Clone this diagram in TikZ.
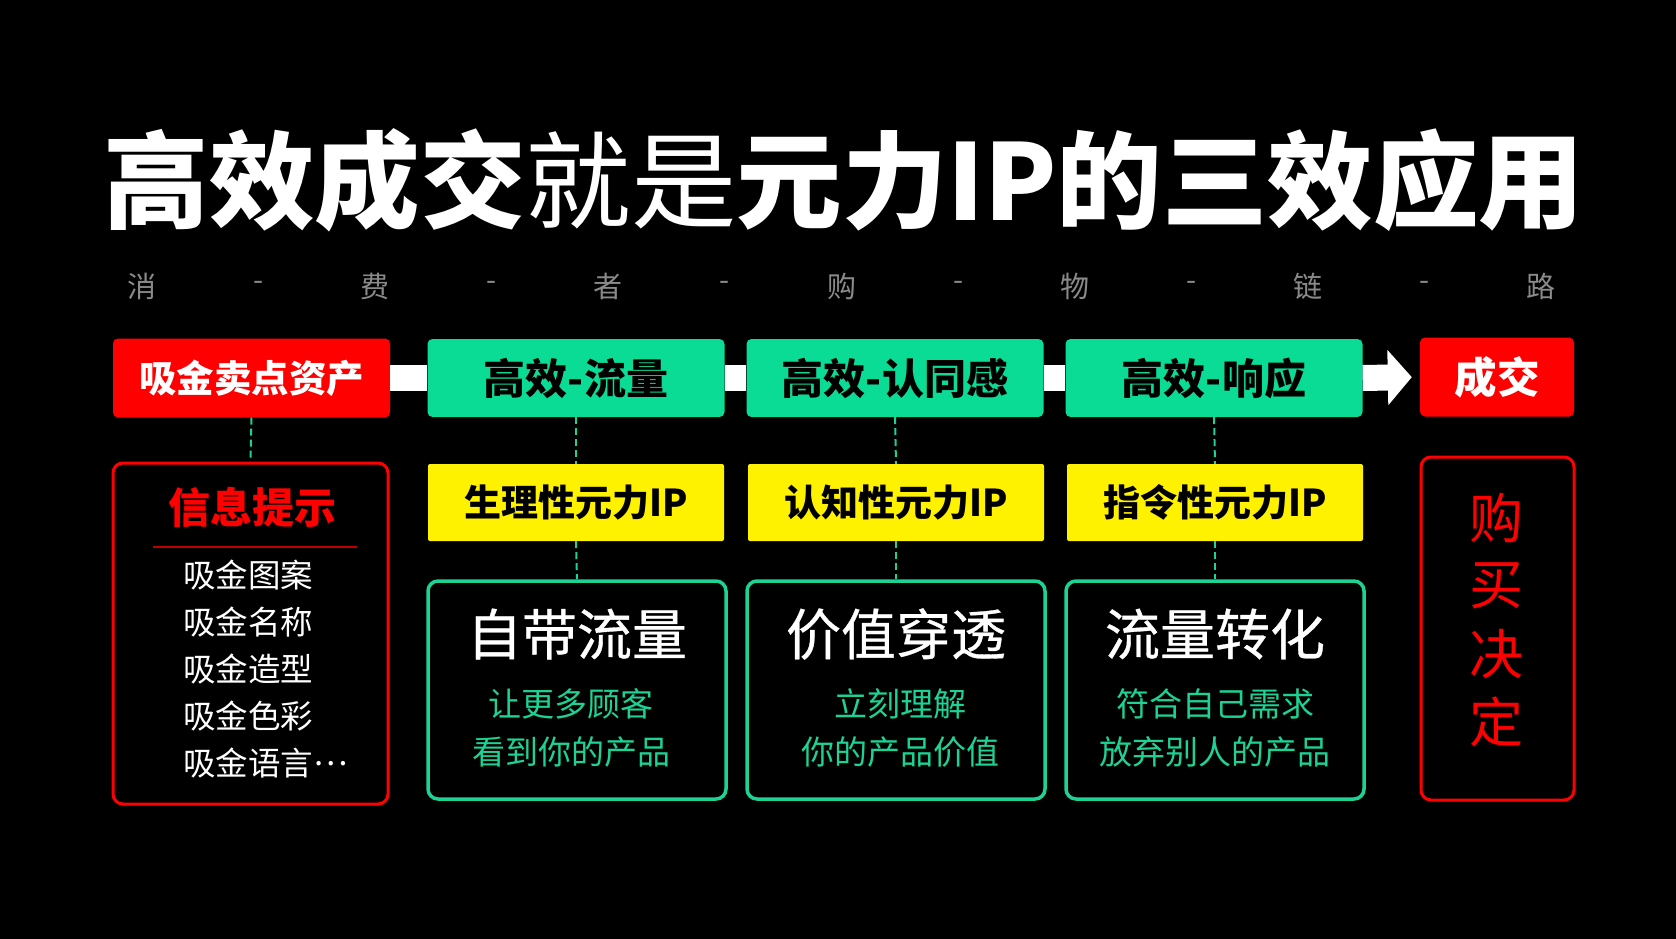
\documentclass[tikz,border=0pt]{standalone}
\usepackage{fontspec}
\setmainfont{Noto Sans CJK SC}
\newfontfamily\midweight[FakeBold=0.6]{Noto Sans CJK SC}
\usetikzlibrary{positioning, arrows.meta}

\definecolor{mintgreen}{HTML}{0BDC95}
\definecolor{linegreen}{HTML}{1CD295}
\definecolor{signred}{HTML}{FF0000}
\definecolor{darkred}{HTML}{C00000}
\definecolor{chaingray}{HTML}{8A8A8A}

\tikzset{
  redtag/.style={fill=signred, rounded corners=5pt, text=white, inner sep=0pt,
    minimum height=79pt, font=\fontsize{37.5}{40}\selectfont\bfseries},
  stagebox/.style={fill=mintgreen, rounded corners=5pt, text=black, inner sep=0pt,
    minimum width=297pt, minimum height=78pt, font=\fontsize{42}{46}\selectfont\bfseries},
  ipbox/.style={fill=yellow, rounded corners=2pt, text=black, inner sep=0pt,
    minimum width=296pt, minimum height=77pt, font=\fontsize{37}{40}\selectfont\bfseries},
  effectbox/.style={draw=linegreen, line width=3.5pt, rounded corners=10pt, inner sep=0pt,
    minimum width=298pt, minimum height=218pt},
  frame/.style={draw=signred, line width=3pt, rounded corners=10pt, inner sep=0pt},
  bigword/.style={text=white, font=\fontsize{55}{60}\midweight},
  smallword/.style={text=linegreen, font=\fontsize{33}{36}\selectfont},
  chain/.style={text=chaingray, font=\fontsize{29}{32}\selectfont},
  item/.style={text=white, anchor=west, inner sep=0pt, font=\fontsize{32.5}{36}\selectfont},
  link/.style={draw=linegreen, line width=2pt, dash pattern=on 7pt off 4pt},
  bar/.style={draw=white, line width=26pt}
}

\begin{document}
\begin{tikzpicture}[x=1pt, y=-1pt]
\fill[black] (0,0) rectangle (1676,939);
\useasboundingbox (0,0) rectangle (1676,939);

% title
\node[text=white, inner sep=0pt, font=\fontsize{105.5}{110}\selectfont] (title) at (844,180)
  {{\bfseries 高效成交}就是{\bfseries 元力IP的三效应用}};

% consumer chain
\foreach \ch [count=\i] in {消,费,者,购,物,链,路}
  \node[chain] (ch\i) at ({142+233.2*(\i-1)},286) {\ch};
\foreach \i in {1,...,6}
  \node[chain] (dash\i) at ({258.6+233.2*(\i-1)},286) {-};

% top row
\node[redtag, minimum width=277pt] (asset) at (251.5,378) {吸金卖点资产};
\node[stagebox] (flow) at (576,378) {高效-流量};
\node[stagebox] (trust) at (895,378) {高效-认同感};
\node[stagebox] (react) at (1214,378) {高效-响应};
\node[redtag, minimum width=154pt, font=\fontsize{42.5}{46}\selectfont\bfseries] (deal) at (1497,377) {成交};

\draw[bar] (asset.east) -- (flow.west);
\draw[bar] (flow.east) -- (trust.west);
\draw[bar] (trust.east) -- (react.west);
\draw[bar, -{Triangle[length=24pt, width=54pt]}, shorten >=8pt] (react.east) -- (deal.west);

% IP row
\node[ipbox] (body) at (576,502.5) {生理性元力IP};
\node[ipbox] (mind) at (896,502.5) {认知性元力IP};
\node[ipbox] (order) at (1215,502.5) {指令性元力IP};

% effect row
\node[effectbox] (self) at (577,690) {};
\node[effectbox] (value) at (896,690) {};
\node[effectbox] (convert) at (1215,690) {};

\node[bigword] (selft) at (577,634) {自带流量};
\node[smallword] (selfa) at (571,704) {让更多顾客};
\node[smallword] (selfb) at (571,752) {看到你的产品};

\node[bigword] (valuet) at (896,634) {价值穿透};
\node[smallword] (valuea) at (900,704) {立刻理解};
\node[smallword] (valueb) at (900,752) {你的产品价值};

\node[bigword] (convertt) at (1215,634) {流量转化};
\node[smallword] (converta) at (1215,704) {符合自己需求};
\node[smallword] (convertb) at (1215,752) {放弃别人的产品};

% info box
\node[frame, minimum width=275pt, minimum height=341pt] (info) at (250.5,633.5) {};
\node[text=signred, font=\fontsize{42}{44}\selectfont\bfseries] (infot) at (252,507) {信息提示};
\coordinate (rulel) at (153,547);
\coordinate (ruler) at (357,547);
\draw[darkred, line width=2pt] (rulel) -- (ruler);
\foreach \txt [count=\i] in {吸金图案,吸金名称,吸金造型,吸金色彩,吸金语言\raisebox{0.3em}{…}}
  \node[item] (item\i) at (183,{528+47*\i}) {\txt};

% decision box
\node[frame, minimum width=153pt, minimum height=343pt] (decide) at (1497.5,628.5) {};
\foreach \ch [count=\i] in {购,买,决,定}
  \node[text=signred, font=\fontsize{54}{58}\selectfont] (dec\i) at (1496,{518+68*(\i-1)}) {\ch};

% dashed links
\draw[link] (asset.south) -- (info.north);
\draw[link] (flow.south) -- (body.north);
\draw[link] (trust.south) -- (mind.north);
\draw[link] (react.south) -- (order.north);
\draw[link] (body.south) -- (self.north);
\draw[link] (mind.south) -- (value.north);
\draw[link] (order.south) -- (convert.north);
\end{tikzpicture}
\end{document}
